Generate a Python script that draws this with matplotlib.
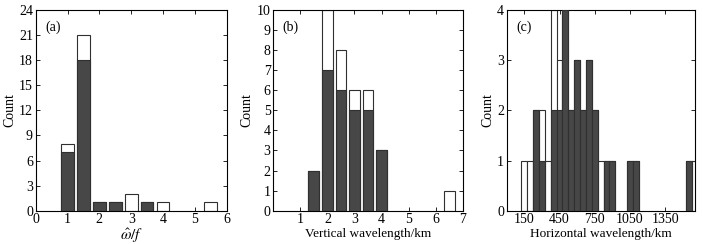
import matplotlib.pyplot as plt
import numpy as np

plt.rcParams['font.family'] = ['Liberation Serif', 'DejaVu Serif']
plt.rcParams['mathtext.fontset'] = 'stix'
plt.rcParams['font.size'] = 10

# (a) intrinsic frequency ratio
a_centers = [1.0, 1.5, 2.0, 2.5, 3.0, 3.5, 4.0, 4.5, 5.0, 5.5]
a_total = [8, 21, 1, 1, 2, 1, 1, 0, 0, 1]
a_dark = [7, 18, 1, 1, 0, 1, 0, 0, 0, 0]

# (b) vertical wavelength (km)
b_centers = [1.5, 2.0, 2.5, 3.0, 3.5, 4.0, 4.5, 5.0, 5.5, 6.0, 6.5]
b_total = [2, 10, 8, 6, 6, 3, 0, 0, 0, 0, 1]
b_dark = [2, 7, 6, 5, 5, 3, 0, 0, 0, 0, 0]

# (c) horizontal wavelength (km)
c_centers = list(range(150, 1601, 50))
c_total = [1, 1, 2, 2, 1, 4, 3, 4, 2, 3, 2, 3, 2, 1, 1, 1, 0, 0, 1, 1,
           0, 0, 0, 0, 0, 0, 0, 0, 1, 1]
c_dark = [0, 0, 2, 1, 0, 2, 2, 4, 2, 3, 2, 3, 2, 0, 1, 1, 0, 0, 1, 1,
          0, 0, 0, 0, 0, 0, 0, 0, 1, 0]

dark = '#474747'
edge = '#303030'

fig = plt.figure(figsize=(7.03, 2.44), dpi=100)
ax_a = fig.add_axes([35.7 / 703, 1 - 210.7 / 244, 191 / 703, 200.7 / 244])
ax_b = fig.add_axes([273.3 / 703, 1 - 210.7 / 244, 189.4 / 703, 200.7 / 244])
ax_c = fig.add_axes([506.7 / 703, 1 - 210.7 / 244, 187.8 / 703, 200.7 / 244])


def draw(ax, x, total, dk, width):
    x = np.asarray(x, dtype=float)
    total = np.asarray(total)
    dk = np.asarray(dk)
    m = total > 0
    ax.bar(x[m], total[m], width=width, color='white', edgecolor=edge,
           linewidth=0.8, zorder=2)
    m = dk > 0
    ax.bar(x[m], dk[m], width=width, color=dark, edgecolor=edge,
           linewidth=0.8, zorder=3)
    ax.tick_params(direction='in', top=True, right=True, length=3,
                   width=0.6, labelsize=10, pad=2)
    for s in ax.spines.values():
        s.set_linewidth(0.8)
    ax.set_ylabel('Count', labelpad=2)


draw(ax_a, a_centers, a_total, a_dark, 0.4)
ax_a.set_xlim(0, 6)
ax_a.set_ylim(0, 24)
ax_a.set_xticks(range(0, 7))
ax_a.set_yticks(range(0, 25, 3))
ax_a.set_xlabel(r'$\hat{\omega}/f$', labelpad=0, fontsize=11)
ax_a.text(0.05, 0.95, '(a)', transform=ax_a.transAxes, va='top')

draw(ax_b, b_centers, b_total, b_dark, 0.4)
ax_b.set_xlim(0, 7)
ax_b.set_ylim(0, 10)
ax_b.set_xticks(range(1, 8))
ax_b.set_yticks(range(0, 11))
ax_b.set_xlabel('Vertical wavelength/km', labelpad=1, fontsize=9.5)
ax_b.text(0.05, 0.95, '(b)', transform=ax_b.transAxes, va='top')

draw(ax_c, c_centers, c_total, c_dark, 50)
ax_c.set_xlim(0, 1600)
ax_c.set_ylim(0, 4)
ax_c.set_xticks(range(150, 1351, 300))
ax_c.set_yticks(range(0, 5))
ax_c.set_xlabel('Horizontal wavelength/km', labelpad=1, fontsize=9.5)
ax_c.text(0.05, 0.95, '(c)', transform=ax_c.transAxes, va='top')

fig.savefig('out.png', dpi=100)
